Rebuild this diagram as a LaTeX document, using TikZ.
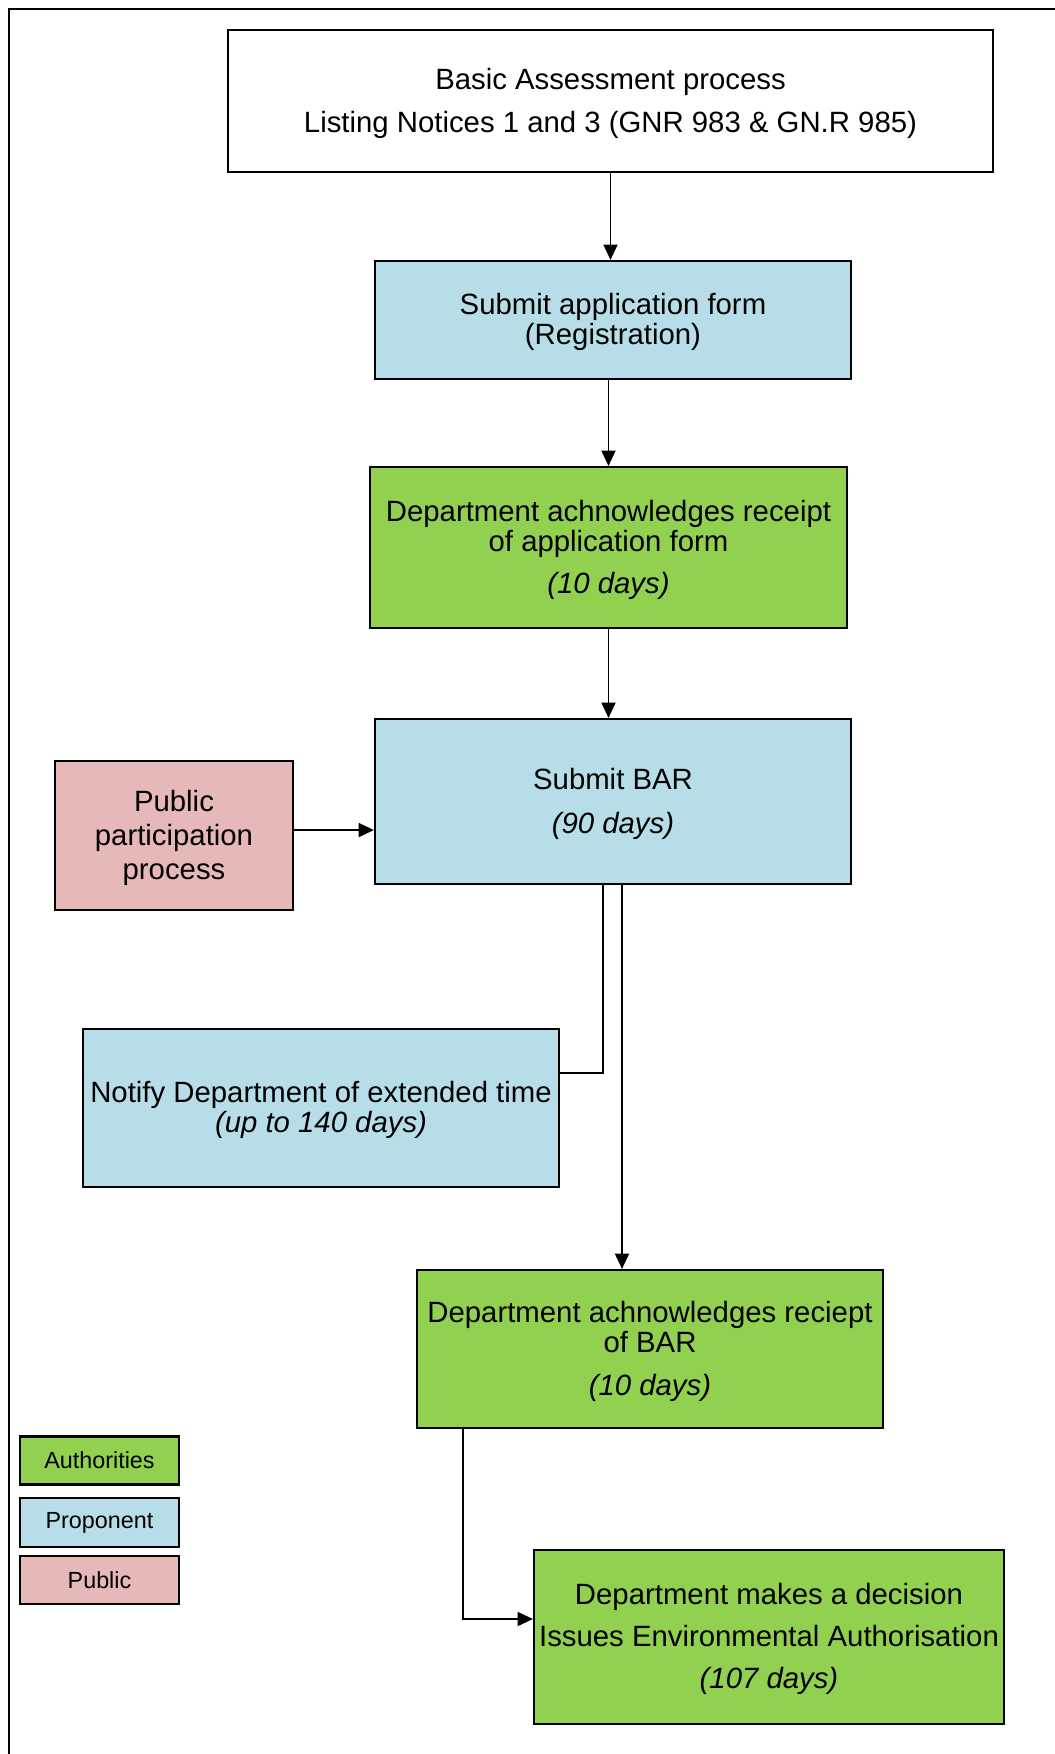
\documentclass[tikz,border=0pt]{standalone}
\usepackage{fontspec}
\setmainfont{Liberation Sans}
\usetikzlibrary{arrows.meta,calc}
\definecolor{authgreen}{HTML}{92D050}
\definecolor{propblue}{HTML}{B7DEE8}
\definecolor{pubpink}{HTML}{E6B9B8}
\tikzset{
  box/.style={draw=black, line width=1.6pt, rectangle, inner sep=0pt, align=center,
    font=\fontsize{22}{22.5}\selectfont},
  legendbox/.style={draw=black, line width=1.6pt, rectangle, inner sep=0pt, align=center,
    font=\fontsize{17.5}{20}\selectfont},
  conn/.style={draw=black, line width=1.35pt},
  arr/.style={conn, -{Triangle[length=11.5pt,width=10.5pt]}},
  frameline/.style={draw=black, line width=1.6pt}
}
\begin{document}
\begin{tikzpicture}[x=0.75pt,y=-0.75pt]
\useasboundingbox (0,0) rectangle (1055,1754);
% page frame (top and left only)
\coordinate (fr1) at (1055,9);
\coordinate (fr2) at (9,9);
\coordinate (fr3) at (9,1754);
\draw[frameline] (fr1) -- (fr2) -- (fr3);

\node[box, fill=white, minimum width=765*0.75pt, minimum height=142*0.75pt] (top) at (610.5,101)
  {\rule{0pt}{19.5pt}Basic Assessment process\\[9.4pt]Listing Notices 1 and 3 (GNR 983 \& GN.R 985)};
\node[box, fill=propblue, minimum width=476*0.75pt, minimum height=118*0.75pt] (app) at (613,320)
  {\rule{0pt}{19.5pt}Submit application form\\(Registration)};
\node[box, fill=authgreen, minimum width=477*0.75pt, minimum height=161*0.75pt] (ack) at (608.5,547.5)
  {\rule{0pt}{19.5pt}Department achnowledges receipt\\of application form\\[8.3pt]\itshape (10 days)};
\node[box, fill=propblue, minimum width=476*0.75pt, minimum height=165*0.75pt] (bar) at (613,801.5)
  {\rule{0pt}{19.5pt}Submit BAR\\[10.2pt]\itshape (90 days)};
\node[box, fill=pubpink, minimum width=238*0.75pt, minimum height=149*0.75pt] (pub) at (174,835.5)
  {\rule{0pt}{19.5pt}Public\\[2.7pt]participation\\[2.7pt]process};
\node[box, fill=propblue, minimum width=476*0.75pt, minimum height=158*0.75pt] (notify) at (321,1108)
  {\rule{0pt}{19.5pt}Notify Department of extended time\\\itshape (up to 140 days)};
\node[box, fill=authgreen, minimum width=466*0.75pt, minimum height=158*0.75pt] (ackbar) at (650,1349)
  {\rule{0pt}{19.5pt}Department achnowledges reciept\\of BAR\\[9.4pt]\itshape (10 days)};
\node[box, fill=authgreen, minimum width=470*0.75pt, minimum height=174*0.75pt] (dec) at (769,1637)
  {\rule{0pt}{19.5pt}Department makes a decision\\[8.6pt]Issues Environmental Authorisation\\[9.4pt]\itshape (107 days)};

% legend
\node[legendbox, fill=authgreen, minimum width=159*0.75pt, minimum height=48*0.75pt] (lgA) at (99.5,1460.5) {Authorities};
\node[legendbox, fill=propblue, minimum width=159*0.75pt, minimum height=49*0.75pt] (lgP) at (99.5,1522.5) {Proponent};
\node[legendbox, fill=pubpink, minimum width=159*0.75pt, minimum height=48*0.75pt] (lgU) at (99.5,1580) {Public};

% connectors
\draw[arr] (top.south) -- (top.south |- app.north);
\draw[arr] (ack.north |- app.south) -- (ack.north);
\draw[arr] (ack.south) -- (ack.south |- bar.north);
\draw[arr] ([yshift=4.1pt]pub.east) -- ([yshift=4.1pt]pub.east -| bar.west);
\draw[conn] ([xshift=-7.5pt]bar.south) |- ([yshift=26.25pt]notify.east);
\draw[arr] ([xshift=6.75pt]bar.south) -- ([xshift=6.75pt]bar.south |- ackbar.north);
\draw[arr] ([xshift=35.25pt]ackbar.south west) |- ([yshift=13.5pt]dec.west);
\end{tikzpicture}
\end{document}
